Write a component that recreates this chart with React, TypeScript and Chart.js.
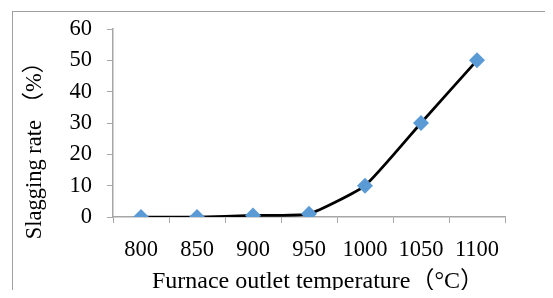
import React, { useEffect, useRef } from "react";
import { Chart, registerables } from "chart.js";

Chart.register(...registerables);

const categories = ["800", "850", "900", "950", "1000", "1050", "1100"];
const slaggingRate = [0, 0, 0.5, 1, 10, 30, 50];
const yTicks = [0, 10, 20, 30, 40, 50, 60];
const xTitle = "Furnace outlet temperature（°C）";
const yTitle = "Slagging rate （%）";

const FONT = "'Liberation Serif', 'Times New Roman', 'Noto Sans CJK SC', serif";
const AXIS = "#a6a6a6";

export default function App() {
  const ref = useRef<HTMLCanvasElement>(null);
  useEffect(() => {
    if (!ref.current) return;
    const titlePlugin = {
      id: "axisTitles",
      afterDraw(chart: any) {
        const ctx = chart.ctx;
        const area = chart.chartArea;
        ctx.save();
        ctx.fillStyle = "#000";
        ctx.textAlign = "center";
        ctx.textBaseline = "middle";
        ctx.font = `24px ${FONT}`;
        ctx.fillText(xTitle, (area.left + area.right) / 2 + 9, 282);
        ctx.translate(35, 145);
        ctx.rotate(-Math.PI / 2);
        ctx.font = `22.5px ${FONT}`;
        ctx.fillText(yTitle, 0, 0);
        ctx.restore();
      },
    };
    const chart = new Chart(ref.current, {
      type: "line",
      data: {
        labels: categories,
        datasets: [
          {
            data: slaggingRate,
            borderColor: "#000",
            borderWidth: 2.75,
            tension: 0.15,
            pointStyle: "rectRot",
            pointRadius: 8,
            pointBackgroundColor: "#5b9bd5",
            pointBorderColor: "#5b9bd5",
            pointBorderWidth: 0,
          },
        ],
      },
      options: {
        responsive: false,
        animation: false,
        layout: { padding: { left: 0, right: 48, top: 29, bottom: 0 } },
        plugins: { legend: { display: false }, tooltip: { enabled: false } },
        scales: {
          x: {
            type: "category",
            offset: true,
            grid: { offset: true, drawOnChartArea: false, drawTicks: true, tickLength: 6, color: AXIS },
            border: { color: AXIS, width: 1.5 },
            ticks: { color: "#000", font: { family: FONT, size: 22.5 }, padding: 14, maxRotation: 0 },
            afterFit: (s: any) => { s.height = 81; },
          },
          y: {
            min: 0,
            max: 60,
            afterBuildTicks: (s: any) => { s.ticks = yTicks.map((v) => ({ value: v })); },
            grid: { drawOnChartArea: false, drawTicks: true, tickLength: 6, color: AXIS },
            border: { color: AXIS, width: 1.5 },
            ticks: { color: "#000", font: { family: FONT, size: 22.5 }, padding: 15 },
            afterFit: (s: any) => { s.width = 113; },
          },
        },
      },
      plugins: [titlePlugin],
    });
    return () => chart.destroy();
  }, []);
  return (
    <div style={{ position: "relative", width: 553, height: 298, margin: -8, background: "#fff", overflow: "hidden" }}>
      <div style={{ position: "absolute", left: 12, top: 11, width: 600, height: 400, borderLeft: "1.5px solid #a0a0a0", borderTop: "1.5px solid #a0a0a0" }} />
      <canvas ref={ref} width={553} height={298} style={{ position: "absolute", left: 0, top: 0 }} />
    </div>
  );
}
